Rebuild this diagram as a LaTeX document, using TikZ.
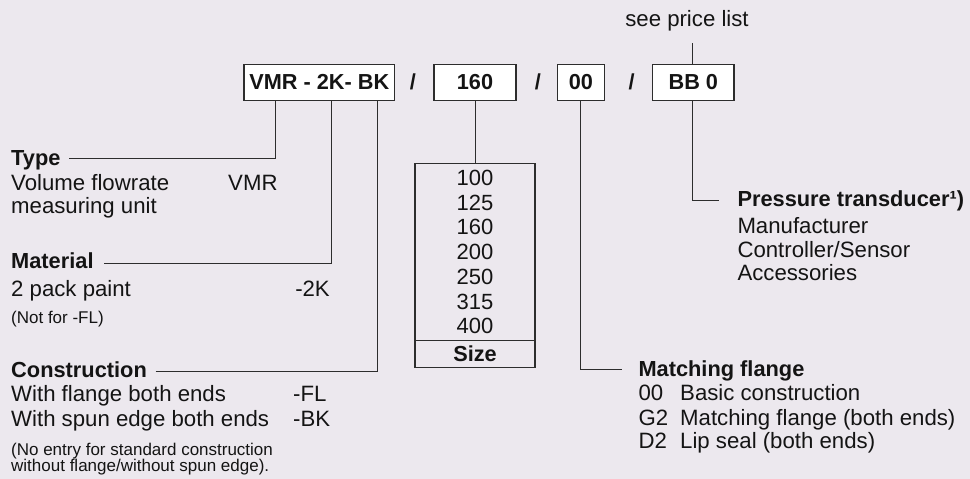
\documentclass[tikz,border=0pt]{standalone}
\usepackage{fontspec}
\setmainfont{Liberation Sans}
\definecolor{bg}{RGB}{236,232,238}
\definecolor{ln}{RGB}{45,45,45}
\definecolor{tx}{RGB}{20,20,20}
\begin{document}
\begin{tikzpicture}[x=1pt,y=-1pt,
  txt/.style={anchor=base west,inner sep=0pt,text=tx,font=\fontsize{22.2}{26}\selectfont},
  txtr/.style={anchor=base east,inner sep=0pt,text=tx,font=\fontsize{22.2}{26}\selectfont},
  head/.style={txt,font=\fontsize{21.8}{26}\selectfont\bfseries},
  small/.style={anchor=base west,inner sep=0pt,text=tx,font=\fontsize{17}{20}\selectfont},
  topbox/.style={draw=ln,line width=1.1pt,fill=white,inner sep=0pt,text=tx,font=\fontsize{21.7}{26}\selectfont\bfseries},
  slash/.style={inner sep=0pt,text=tx,font=\fontsize{21.7}{26}\selectfont\bfseries},
  num/.style={inner sep=0pt,text=tx,font=\fontsize{22}{26}\selectfont},
  conn/.style={draw=ln,line width=0.9pt}]
\fill[bg] (0,0) rectangle (970,479);
\useasboundingbox (0,0) rectangle (970,479);

% top code boxes
\node[topbox,minimum width=150.7pt,minimum height=36.5pt] (vmr) at (319.3,82.3) {VMR - 2K- BK};
\node[slash] (s1) at (413,82.3) {/};
\node[topbox,minimum width=82pt,minimum height=36.5pt] (size) at (475,82.3) {160};
\node[slash] (s2) at (538,82.3) {/};
\node[topbox,minimum width=46.3pt,minimum height=36.5pt] (flg) at (580.9,82.3) {00};
\node[slash] (s3) at (631.7,82.3) {/};
\node[topbox,minimum width=81.3pt,minimum height=36.5pt] (bb) at (693.3,82.3) {BB 0};

% see price list
\node[txt,anchor=base] (spl) at (687,26.7) {see price list};
\coordinate (splb) at (692.7,43);
\draw[conn] (splb) -- (splb |- bb.north);

% left descriptions
\node[head] (type) at (11,165) {Type};
\node[txt] (t1) at (11,190) {Volume flowrate};
\node[txt] (t2) at (11,213) {measuring unit};
\node[txt] (t3) at (228,190) {VMR};

\node[head] (mat) at (11,268) {Material};
\node[txt] (m1) at (11,296) {2 pack paint};
\node[txtr] (m2) at (330,296) {-2K};
\node[small] (m3) at (11,323) {(Not for -FL)};

\node[head] (con) at (11,377) {Construction};
\node[txt] (c1) at (11,401.7) {With flange both ends};
\node[txt] (c2) at (293,401.7) {-FL};
\node[txt] (c3) at (11,426.7) {With spun edge both ends};
\node[txt] (c4) at (293,426.7) {-BK};
\node[small] (c5) at (11,455) {(No entry for standard construction};
\node[small] (c6) at (11,471.7) {without flange/without spun edge).};

\coordinate (typeL) at (69,158.3);
\coordinate (matL) at (104,263.3);
\coordinate (conL) at (155.7,371);
\coordinate (vmrA) at (275.7,0);
\coordinate (vmrB) at (331.7,0);
\coordinate (vmrC) at (377.7,0);
\draw[conn] (typeL) -| (vmrA |- vmr.south);
\draw[conn] (matL) -| (vmrB |- vmr.south);
\draw[conn] (conL) -| (vmrC |- vmr.south);

% size table
\node[draw=ln,line width=1.1pt,minimum width=120pt,minimum height=204pt,inner sep=0pt] (tab) at (475,265.3) {};
\draw[conn] (size.south) -- (tab.north);
\node[num] (n1) at (475,178) {100};
\node[num] (n2) at (475,202.7) {125};
\node[num] (n3) at (475,227.4) {160};
\node[num] (n4) at (475,252.1) {200};
\node[num] (n5) at (475,276.8) {250};
\node[num] (n6) at (475,301.5) {315};
\node[num] (n7) at (475,326.2) {400};
\coordinate (sepy) at (0,340.7);
\draw[line width=1.1pt,draw=ln] (tab.west |- sepy) -- (tab.east |- sepy);
\node[num,font=\fontsize{21.7}{26}\selectfont\bfseries] (sz) at (475,354) {Size};

% matching flange
\coordinate (flgL) at (622,369.3);
\draw[conn] (flg.south) |- (flgL);
\node[head] (mf) at (638.3,376) {Matching flange};
\node[txt] (f1) at (638.3,400) {00};
\node[txt] (f2) at (680,400) {Basic construction};
\node[txt] (f3) at (638.3,425) {G2};
\node[txt] (f4) at (680,425) {Matching flange (both ends)};
\node[txt] (f5) at (638.3,448) {D2};
\node[txt] (f6) at (680,448) {Lip seal (both ends)};

% pressure transducer
\coordinate (ptL) at (719.3,200.7);
\coordinate (bbX) at (692.7,0);
\draw[conn] (bbX |- bb.south) |- (ptL);
\node[head] (pt) at (737.3,206.7) {Pressure transducer¹)};
\node[txt] (p1) at (737.3,233) {Manufacturer};
\node[txt] (p2) at (737.3,257) {Controller/Sensor};
\node[txt] (p3) at (737.3,280) {Accessories};
\end{tikzpicture}
\end{document}
